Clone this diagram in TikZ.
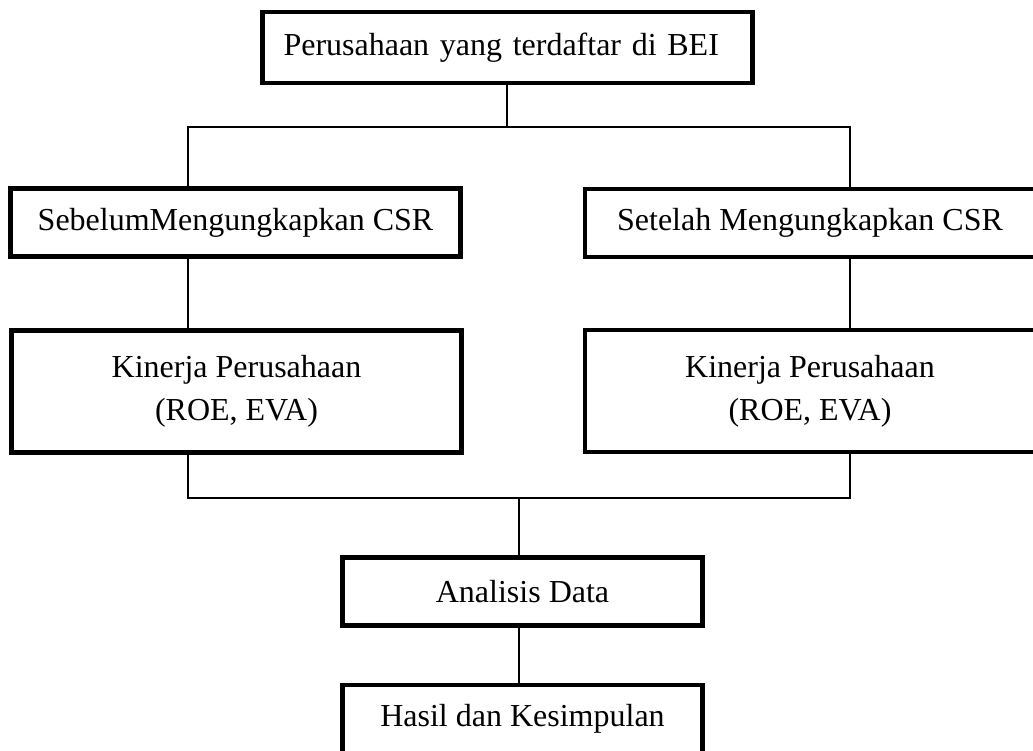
\documentclass[tikz,border=0pt]{standalone}
\usepackage{fontspec}
\setmainfont{Liberation Serif}
\usetikzlibrary{positioning}

\begin{document}
\begin{tikzpicture}[
  x=1pt, y=-1pt,
  every node/.style={font=\fontsize{32}{43}\selectfont},
  box/.style={rectangle, draw, line width=4.5pt, minimum width=450pt, minimum height=68pt, align=center, inner sep=0pt},
  tall/.style={box, minimum height=122pt},
  small/.style={box, minimum width=360pt},
  link/.style={line width=1.4pt},
]
\useasboundingbox (0,0) rectangle (1033,751);
\clip (0,0) rectangle (1033,751);

% Boxes
\node[box, minimum width=490pt, minimum height=71pt, text width=448pt, align=left, inner xsep=21pt] (bei) at (507.5,47.5) {Perusahaan yang terdaftar di BEI};
\node[box] (sebelum) at (235.5,222.5) {SebelumMengungkapkan CSR};
\node[box] (setelah) at (810,223) {Setelah Mengungkapkan CSR};
\node[tall] (kinerjaL) at (236.5,391.5) {Kinerja Perusahaan\\(ROE, EVA)};
\node[tall] (kinerjaR) at (810,391) {Kinerja Perusahaan\\(ROE, EVA)};
\node[small] (analisis) at (522.5,591.5) {Analisis Data};
\node[small] (hasil) at (522.5,719) {Hasil dan Kesimpulan};

% Junctions
\coordinate (jt) at (507,127);
\coordinate (lx) at (188,127);
\coordinate (rx) at (850,127);
\coordinate (jb) at (519,498);

% Connectors - top
\draw[link] (bei.south -| jt) -- (jt);
\draw[link] (sebelum.north -| lx) -- (lx) -- (rx) -- (setelah.north -| rx);
\draw[link] (sebelum.south -| lx) -- (kinerjaL.north -| lx);
\draw[link] (setelah.south -| rx) -- (kinerjaR.north -| rx);

% Connectors - bottom
\draw[link] (kinerjaL.south -| lx) |- (jb) -| (kinerjaR.south -| rx);
\draw[link] (jb) -- (analisis.north -| jb);
\draw[link] (analisis.south -| jb) -- (hasil.north -| jb);
\end{tikzpicture}
\end{document}
